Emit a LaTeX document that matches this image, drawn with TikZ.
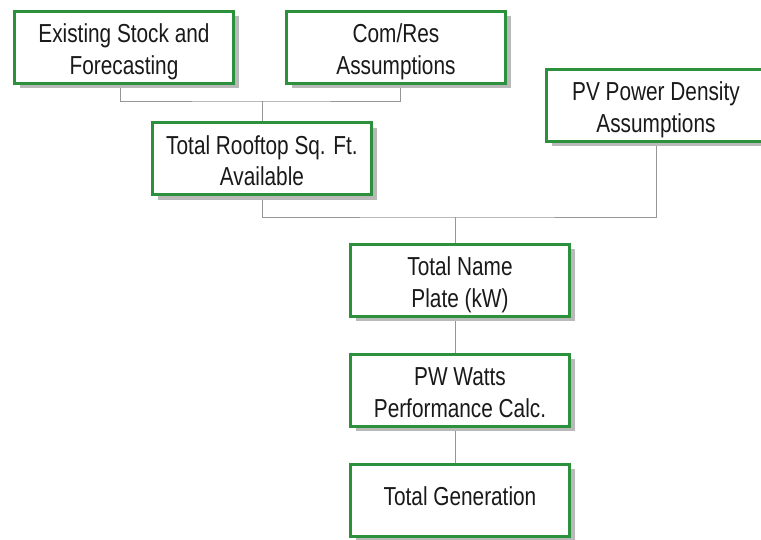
\documentclass[tikz,border=0pt]{standalone}
\usepackage{fontspec}
\setmainfont{Liberation Sans}[FakeStretch=0.8]
\usetikzlibrary{shadows,backgrounds}
\definecolor{boxgreen}{RGB}{44,145,60}
\definecolor{linegray}{RGB}{150,150,150}
\newcommand\toppad{\rule{0pt}{28.5pt}}
\newcommand\botpad{\rule[-6pt]{0pt}{6pt}}
\tikzset{
  flowbox/.style={draw=boxgreen, line width=3pt, fill=white,
    minimum width=219pt, minimum height=72pt, inner sep=2pt,
    align=center, font=\fontsize{26}{31.5}\selectfont, text=black!90,
    drop shadow={shadow xshift=5pt, shadow yshift=-5pt, fill=gray!55, opacity=1}},
  conn/.style={draw=linegray, line width=1pt}
}
\begin{document}
\begin{tikzpicture}[x=1pt,y=-1pt]
\useasboundingbox (0,0) rectangle (761,539);
\clip (0,0) rectangle (761,539);
\node[flowbox] (ex) at (124,47) {\toppad Existing Stock and\\Forecasting\botpad};
\node[flowbox] (cr) at (396,47) {\toppad Com/Res\\Assumptions\botpad};
\node[flowbox] (pv) at (656,105) {\toppad PV Power Density\\Assumptions\botpad};
\node[flowbox] (rt) at (262,158.5) {\toppad Total Rooftop Sq. Ft.\\Available\botpad};
\node[flowbox] (np) at (460,280) {\toppad Total Name\\Plate (kW)\botpad};
\node[flowbox] (pw) at (460,390) {\toppad PW Watts\\Performance Calc.\botpad};
\node[flowbox] (tg) at (460,500) {Total Generation\rule[-8pt]{0pt}{8pt}};
\coordinate (j1) at (262,101);
\coordinate (j2) at (455,217);
\begin{scope}[on background layer]
\fill[white] (0,0) rectangle (761,539);
\draw[conn] ([xshift=-4pt]ex.south) |- (j1) -| ([xshift=4pt]cr.south);
\draw[conn] (j1) -- (rt.north);
\draw[conn] (rt.south) |- (j2) -| (pv.south);
\draw[conn] (j2) -- (j2 |- np.north);
\draw[conn] (np.south -| j2) -- (pw.north -| j2);
\draw[conn] (pw.south -| j2) -- (tg.north -| j2);
\end{scope}
\end{tikzpicture}
\end{document}
